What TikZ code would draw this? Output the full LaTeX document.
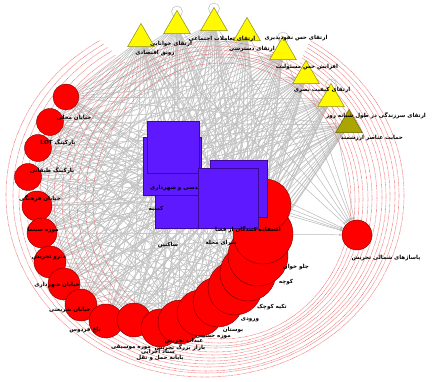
\documentclass[tikz,border=0pt]{standalone}
\usepackage{fontspec}
\setmainfont{DejaVu Sans}
\newfontfamily\fafont[Script=Arabic]{DejaVu Sans}
\TeXXeTstate=1
\usetikzlibrary{shapes.geometric,arrows.meta}
\pgfdeclarelayer{bg}
\pgfsetlayers{bg,main}
\definecolor{cred}{RGB}{255,0,0}
\definecolor{credline}{RGB}{120,0,0}
\definecolor{cpurple}{RGB}{95,25,255}
\definecolor{cpurpleline}{RGB}{60,10,150}
\definecolor{cyellow}{RGB}{255,250,0}
\definecolor{cyellowline}{RGB}{140,140,20}
\definecolor{colive}{RGB}{170,165,0}
\definecolor{coliveline}{RGB}{100,100,0}
\definecolor{cedge}{RGB}{195,195,195}
\definecolor{cdot}{RGB}{238,80,80}
\newcommand{\fatext}[1]{{\fafont\beginR #1\endR}}
\begin{document}
\begin{tikzpicture}[x=1pt,y=-1pt,
  redc/.style={circle, fill=cred, draw=credline, line width=0.4pt, inner sep=0pt},
  sqbox/.style={rectangle, fill=cpurple, draw=cpurpleline, line width=0.4pt, inner sep=0pt},
  tri/.style={regular polygon, regular polygon sides=3, minimum size=31pt, inner sep=0pt, fill=cyellow, draw=cyellowline, line width=0.5pt},
  tridark/.style={tri, fill=colive, draw=coliveline},
  lbl/.style={font=\fafont\bfseries\fontsize{5.6}{7}\selectfont, inner sep=0pt, text=black},
  gedge/.style={draw=cedge, line width=0.65pt},
  rdot/.style={draw=cdot, line width=0.55pt, dash pattern=on 0.5pt off 0.7pt},
  loopst/.style={draw=gray!60, line width=0.4pt},
  redge/.style={draw=gray!55, line width=0.5pt, -{Stealth[length=3pt,width=2.5pt]}}
]
\useasboundingbox (0,0) rectangle (432,382);

% triangles
\foreach \n/\x/\y in {t1/141/39, t2/177/26, t3/214/23, t4/247/33, t5/283/52, t6/306/76, t7/331/99}
  \node[tri] (\n) at (\x,\y) {};
\node[tridark] (t8) at (349,125) {};

% red circles (left, bottom and right arc)
\foreach \n/\x/\y/\r in {c20/66/97/13, c19/50/122/13.5, c18/38/148/13.5, c17/28/177/13.5,
  c16/37/206/15, c15/42/233/15, c14/50/262/16, c13/64/284/16, c12/81/305/16,
  c11/106/321/17, c10/134/320/17, c9/160/328/19, c8/180/322/22, c7/200/313/23,
  c6/218/302/25, c5/235/288/27, c4/248/273/28, c3/258/256/30, c2/263/234/30, c1/265/205/26}
  \node[redc, minimum size=2*\r] (\n) at (\x,\y) {};
\node[redc, minimum size=30] (rr) at (357,235) {};

% squares
\node[sqbox, minimum size=53] (sqc) at (181.5,201.5) {};
\node[sqbox, minimum size=58] (sqb) at (172.5,166.5) {};
\node[sqbox, minimum size=52] (sqa) at (173.5,147.5) {};
\node[lbl, anchor=west] (lsqb) at (150,188) {\fatext{مهندسی و شهرداری}};
\node[sqbox, minimum size=57] (sqd) at (238.5,188.5) {};
\node[sqbox, minimum size=60] (sqe) at (228,198) {};

\begin{pgfonlayer}{bg}
  \fill[white] (0,0) rectangle (432,382);
  \foreach \s in {c1,c2,c3,c4,c5,c6,c7,c8,c9,c10,c11,c12,c13,c14,c15,c16,c17,c18,c19,c20,sqa,sqb,sqc,sqd,sqe}
    \foreach \t in {t1,t2,t3,t4,t5,t6,t7,t8}
      \draw[gedge] (\s) -- (\t);
  \foreach \s in {c9,c10,c11,c12,c13,c14,c15,c16,c17,c18,c19,c20}
    \foreach \t in {sqa,sqb,sqc,sqd,sqe}
      \draw[gedge] (\s) -- (\t);
  \foreach \s in {c10,c11,c12,c13,c14,c15,c16,c17,c18,c19,c20}
    \foreach \t in {c2,c4,c6,c8}
      \draw[gedge] (\s) -- (\t);
  \foreach \s in {t1,t2,t3,t4,t5,t6,t7,sqa,sqd,sqe,c1,c2}
    \draw[redge] (\s) -- (rr);
  % self loops
  \foreach \t in {t2,t3,t5,t7}
    \draw[loopst] (\t.corner 1) ++(0,1.5) circle[radius=5.5];
  % red dotted curved edges around the ring (outer ones open at the top)
  \foreach \cx/\cy/\rx/\ry in {205/195/199/182, 206/195/193/178, 207/196/188/175, 208/196/182/171,
      209/197/177/167, 211/197/171/164, 212/198/165/160}
    \draw[rdot] (\cx,\cy) ++({\rx*cos(238)},{\ry*sin(238)}) arc[start angle=238, end angle=-58, x radius=\rx, y radius=\ry];
  \foreach \cx/\cy/\rx/\ry in {213/198/159/157, 215/199/153/153,
      216/199/147/149, 218/200/141/146, 220/200/135/143, 222/201/129/138}
    \draw[rdot] (\cx,\cy) ellipse[x radius=\rx, y radius=\ry];
\end{pgfonlayer}

% labels
\node[lbl] (l1) at (155,53) {\fatext{رونق اقتصادی}};
\node[lbl] (l2) at (171,44) {\fatext{ارتقای خوانایی}};
\node[lbl] (l3) at (222,39) {\fatext{ارتقای تعاملات اجتماعی}};
\node[lbl] (l4) at (252,49) {\fatext{ارتقای دسترسی}};
\node[lbl] (l5) at (296,38) {\fatext{ارتقای حس نفوذپذیری}};
\node[lbl] (l6) at (307,67) {\fatext{افزایش حس مسئولیت}};
\node[lbl] (l7) at (322,90) {\fatext{ارتقای کیفیت بصری}};
\node[lbl] (l8) at (376,116) {\fatext{ارتقای سرزندگی در طول شبانه روز}};
\node[lbl] (l9) at (372,138) {\fatext{حمایت عناصر ارزشمند}};
\node[lbl] (lr) at (386,258) {\fatext{پاساژهای شمالی تجریش}};

\node[lbl] (lc19) at (74,118) {\fatext{خیابان محلی}};
\node[lbl] (lc18) at (58,143) {\fatext{پارکینگ \beginL LOT\endL}};
\node[lbl] (lc17) at (52,171) {\fatext{پارکینگ طبقاتی}};
\node[lbl] (lc16) at (40,199) {\fatext{خیابان فرهنگی}};
\node[lbl] (lc15) at (43,230) {\fatext{موزه سینما}};
\node[lbl] (lc14) at (49,258) {\fatext{مترو تجریش}};
\node[lbl] (lc13) at (57,285) {\fatext{خیابان شهرداری}};
\node[lbl] (lc12) at (70,310) {\fatext{خیابان شریعتی}};
\node[lbl] (lc11) at (85,330) {\fatext{باغ فردوس}};

\node[lbl] (lb1) at (213,337) {\fatext{موزه حسینی}};
\node[lbl] (lb2) at (184,341) {\fatext{عبداب تجریش}};
\node[lbl] (lb3) at (131,347) {\fatext{موزه موسیقی}};
\node[lbl] (lb4) at (180,347.5) {\fatext{بازار بزرگ تجریش}};
\node[lbl] (lb5) at (158,352.5) {\fatext{ستاد اجرایی}};
\node[lbl] (lb6) at (160,358.5) {\fatext{پایانه حمل و نقل}};
\node[lbl] (lb7) at (233,330) {\fatext{بوستان}};
\node[lbl] (lb8) at (250,320) {\fatext{ورودی}};
\node[lbl] (lb9) at (272,307) {\fatext{تکیه کوچک}};
\node[lbl] (lb10) at (286,282) {\fatext{کوچه}};
\node[lbl] (lb11) at (296,267) {\fatext{جلو خوان}};

\node[lbl] (ls1) at (248,230) {\fatext{استفاده کنندگان از فضا}};
\node[lbl] (ls2) at (221,243) {\fatext{سرای محله}};
\node[lbl] (ls3) at (168,245) {\fatext{ساکنین}};
\node[lbl] (ls4) at (156,209) {\fatext{کسبه}};
\end{tikzpicture}
\end{document}
